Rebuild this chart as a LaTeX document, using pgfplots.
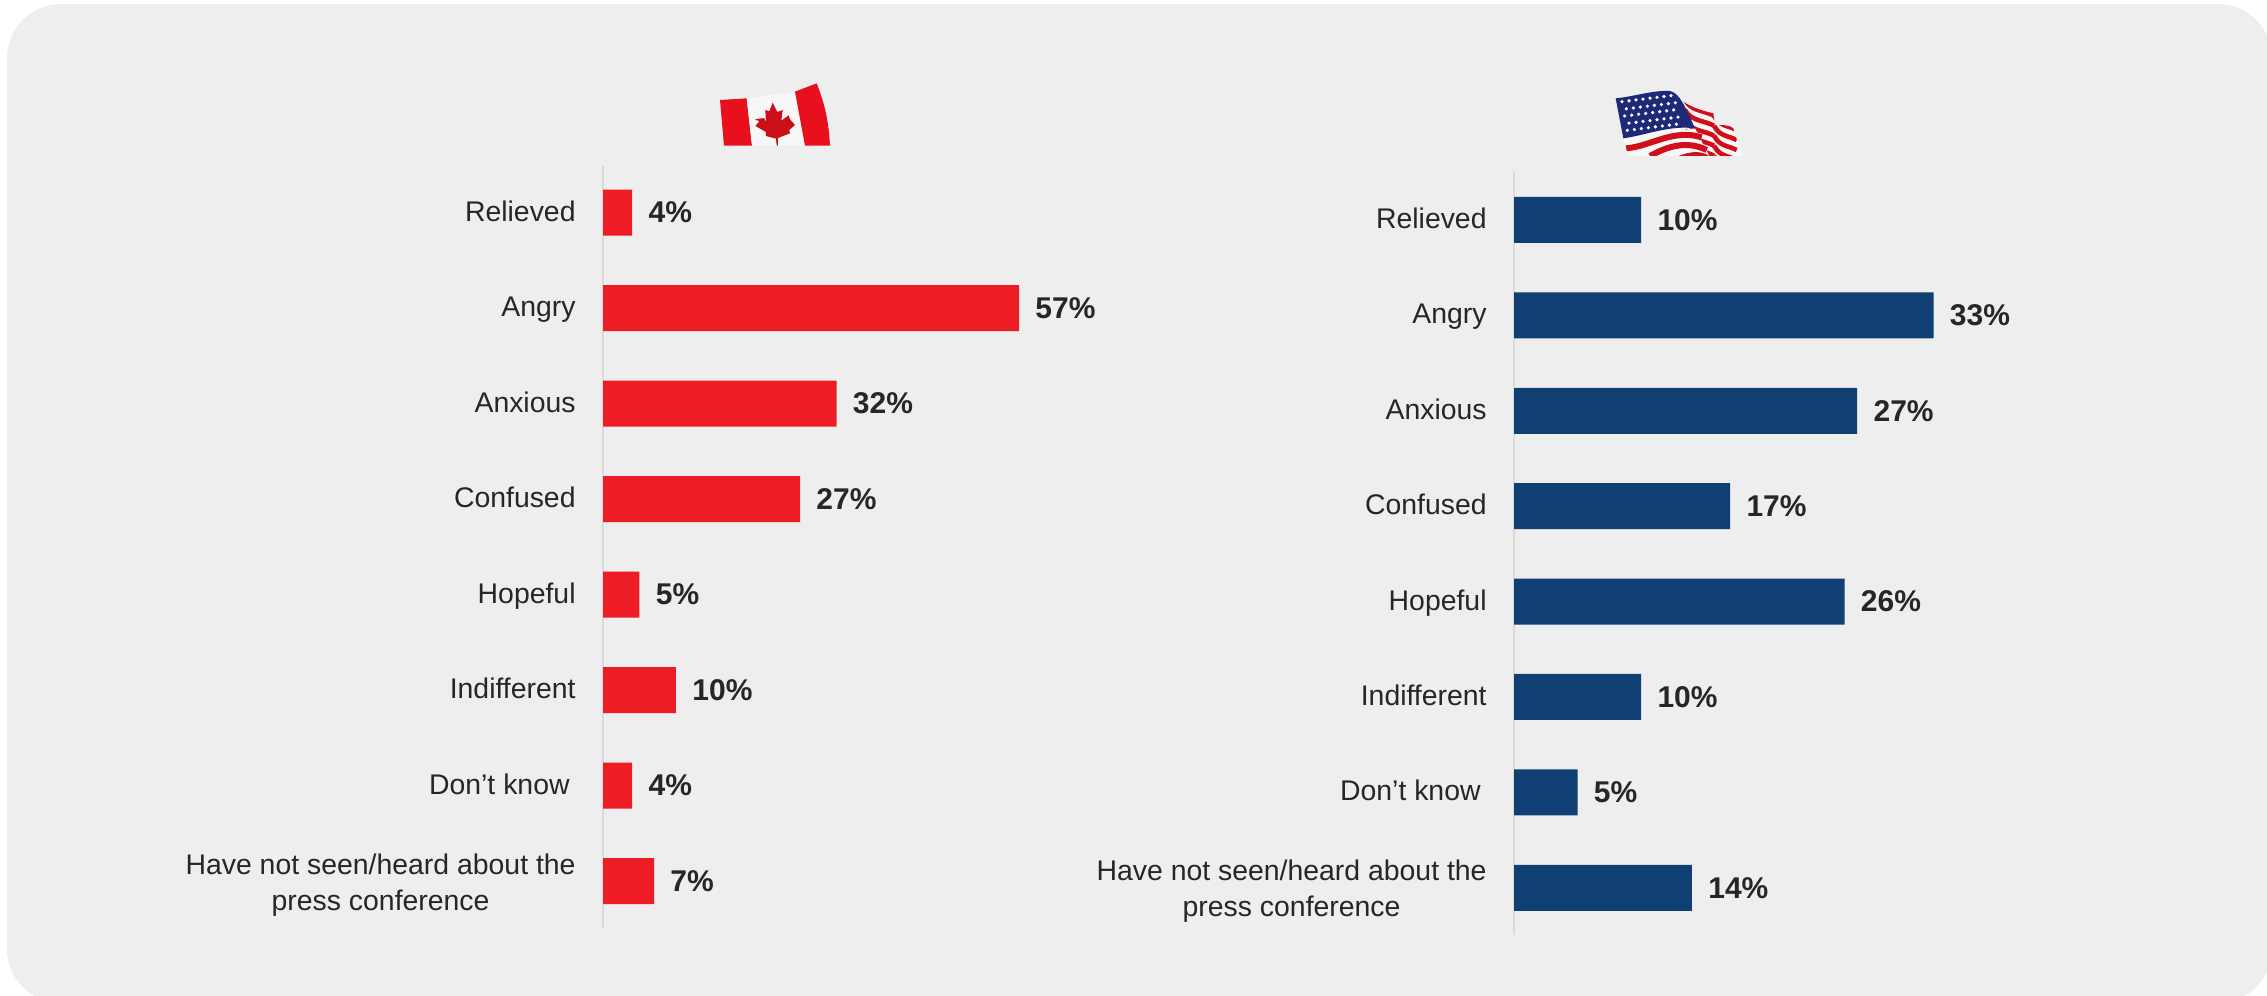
\documentclass[border=0pt]{standalone}
\usepackage{pgfplots}
\pgfplotsset{compat=1.18}
\usepackage{pgfplotstable}
\usepackage{fontspec}
\setmainfont{Liberation Sans}
\definecolor{panel}{HTML}{EEEEEE}
\definecolor{ink}{HTML}{262626}
\definecolor{canred}{HTML}{EE1C25}
\definecolor{usblue}{HTML}{0F3F73}
\definecolor{axisgrey}{HTML}{DADADA}
\definecolor{flagred}{HTML}{E8101C}
\definecolor{flagnavy}{HTML}{1E2A78}

\pgfplotstableread{
idx value
0 4
1 57
2 32
3 27
4 5
5 10
6 4
7 7
}\canadadata
\pgfplotstableread{
idx value
0 10
1 33
2 27
3 17
4 26
5 10
6 5
7 14
}\usdata

\pgfplotsset{
  emotionbars/.style={
    xbar, scale only axis, clip=false,
    width=300pt,
    y dir=reverse,
    xmin=0, axis x line=none,
    axis y line*=left,
    y axis line style={draw=axisgrey, line width=0.8pt, -},
    ytick={0,...,7},
    major tick length=0pt,
    typeset ticklabels with strut,
    yticklabels={Relieved,Angry,Anxious,Confused,Hopeful,Indifferent,{Don’t know\hspace*{3pt}},
      {Have not seen/heard about the\\press conference}},
    y tick label style={font=\fontsize{14.2}{18}\selectfont, text=ink, align=center,
      inner sep=0pt, xshift=-13.5pt, yshift=-0.7pt},
    bar width=23pt,
    point meta=x,
    nodes near coords={\pgfmathprintnumber[assume math mode=true]{\pgfplotspointmeta}\%},
    nodes near coords style={font=\fontsize{15}{16}\selectfont\bfseries, text=ink,
      anchor=west, inner sep=0pt, xshift=8pt},
  }
}

\begin{document}
\begin{tikzpicture}[x=0.5pt,y=-0.5pt]
\useasboundingbox (0,0) rectangle (2267,996);
\begin{scope}
  \clip (0,0) rectangle (2267,996);
  \fill[panel, rounded corners=27pt] (7,4) rectangle (2272,1003);
\end{scope}

% Canadian flag
\begin{scope}[shift={(640,50)}, x=1/6 pt, y=-1/6 pt]
  \fill[flagred] (240,150) -- (320,145) -- (336,287) -- (252,287) -- cycle;
  \fill[white!94!gray] (320,145) .. controls (370,140) and (420,125) .. (465,128) -- (495,287) -- (336,287) -- cycle;
  \fill[flagred] (465,125) -- (530,100) .. controls (545,140) and (565,190) .. (570,287) -- (495,287) -- cycle;
  \fill[flagred!88!black] (398,158) -- (412,186) -- (428,180) -- (424,212) -- (446,196) -- (450,208) -- (465,225)
    -- (448,240) -- (450,250) -- (414,264) -- (414,287) -- (410,287) -- (408,266) -- (378,258) -- (378,246)
    -- (346,228) -- (358,214) -- (345,208) -- (372,204) -- (378,216) -- (376,180) -- (388,184) -- cycle;
\end{scope}

% American flag
\begin{scope}[shift={(1560,50)}, x=1/6 pt, y=-1/6 pt]
  \begin{scope}
    \clip (330,125) .. controls (380,170) and (420,180) .. (460,190) -- (465,225)
      .. controls (490,225) and (510,225) .. (520,235) .. controls (530,270) and (540,300) .. (552,318)
      -- (205,318) -- (190,265) -- cycle;
    \fill[white!94!gray] (160,110) rectangle (560,320);
    \foreach \o in {0,30,60,90,120}{
      \draw[flagred!90!black, line width=2.3pt]
        (375,{150+\o}) .. controls (395,{185+\o}) and (430,{180+\o}) .. (462,{197+\o});
      \draw[flagred!90!black, line width=2.3pt]
        (462,{197+\o}) .. controls (480,{230+\o}) and (500,{225+\o}) .. (530,{240+\o});
    }
    \fill[white!94!gray] (190,265) -- (405,235) -- (448,318) -- (205,318) -- cycle;
    \draw[flagred!90!black, line width=3pt] (198,295) .. controls (270,290) and (340,235) .. (425,262);
    \draw[flagred!90!black, line width=3pt] (270,318) .. controls (320,290) and (380,270) .. (440,300);
    \fill[flagred!90!black] (355,318) .. controls (390,305) and (420,300) .. (448,318) -- cycle;
  \end{scope}
  \fill[flagnavy] (167,145) .. controls (220,140) and (280,120) .. (330,123)
    .. controls (360,130) and (375,170) .. (405,235) .. controls (330,225) and (260,255) .. (190,265) -- cycle;
  \foreach \r/\yy in {0/155,1/175,2/195,3/215,4/235}{
    \foreach \c in {0,1,2,3,4,5,6,7}{
      \fill[white] ({186+\c*21+\r*4+mod(\r,2)*9},{\yy-\c*2.6+\r*1.5}) circle (0.9pt);
    }
  }
\end{scope}

\begin{axis}[emotionbars, at={(301.5pt,-83pt)}, anchor=north west, height=381pt,
    xmax=82.2, ymin=-0.487, ymax=7.49, bar shift=0pt]
  \addplot[fill=canred, draw=none] table[x=value, y=idx] {\canadadata};
\end{axis}

\begin{axis}[emotionbars, at={(757pt,-85.5pt)}, anchor=north west, height=382pt,
    xmax=47.2, ymin=-0.513, ymax=7.495, bar shift=0pt]
  \addplot[fill=usblue, draw=none] table[x=value, y=idx] {\usdata};
\end{axis}
\end{tikzpicture}
\end{document}
